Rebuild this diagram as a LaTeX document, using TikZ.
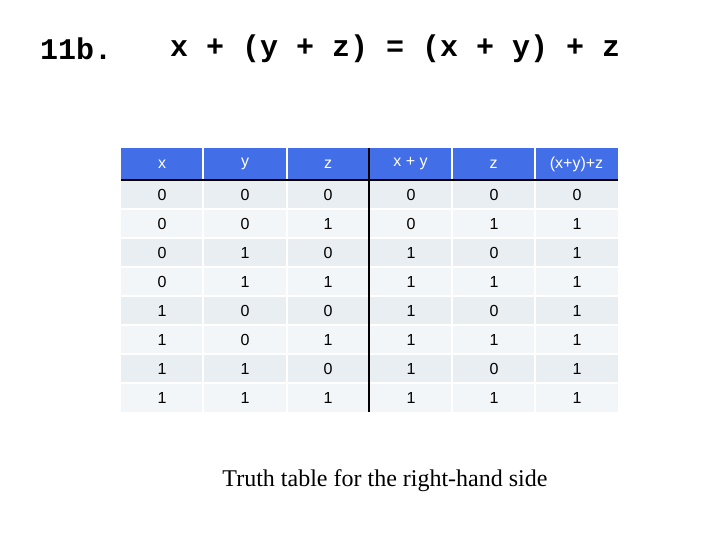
\documentclass[tikz,border=0pt]{standalone}
\usepackage{fontspec}
\setmainfont{Liberation Serif}
\setsansfont{Liberation Sans}
\setmonofont{Liberation Mono}
\definecolor{hdr}{RGB}{66,110,232}
\definecolor{rowa}{RGB}{232,238,242}
\definecolor{rowb}{RGB}{243,246,248}
\begin{document}
\begin{tikzpicture}[x=1pt,y=-1pt,
  cell/.style={font=\sffamily\fontsize{16}{18}\selectfont, anchor=center},
  hcell/.style={cell, text=white}]
\useasboundingbox[fill=white] (0,0) rectangle (720,540);
\node[anchor=west, inner sep=0, font=\ttfamily\bfseries\fontsize{30}{32}\selectfont] (t1) at (40,49) {11b.};
\node[anchor=west, inner sep=0, font=\ttfamily\bfseries\fontsize{30}{32}\selectfont] (t2) at (170,49) {x + (y + z) = (x + y) + z};
\fill[hdr] (121,148) rectangle (618,180);
\foreach \r in {0,...,7}{
  \pgfmathsetmacro\ya{180+29*\r}
  \ifodd\r \def\rc{rowb}\else\def\rc{rowa}\fi
  \fill[\rc] (121,\ya) rectangle (618,\ya+29);
  \draw[white,line width=1.5] (121,\ya) -- (618,\ya);
}
\foreach \xx in {203,287,452,535}{
  \draw[white,line width=1.5] (\xx,148) -- (\xx,412);
}
\draw[black,line width=2] (369,148) -- (369,412);
\draw[black,line width=2] (121,180) -- (618,180);
\foreach \t/\cx [count=\i from 0] in {x/162,y/245,z/328,x + y/410.5,z/493.5,(x+y)+z/576.5}{
  \node[hcell] (h\i) at (\cx,164) {\t};
}
\foreach \row [count=\r from 0] in {{0,0,0,0,0,0},{0,0,1,0,1,1},{0,1,0,1,0,1},{0,1,1,1,1,1},{1,0,0,1,0,1},{1,0,1,1,1,1},{1,1,0,1,0,1},{1,1,1,1,1,1}}{
  \foreach \v [count=\i from 0] in \row {
    \pgfmathsetmacro\cy{194.5+29*\r}
    \pgfmathsetmacro\cx{162+83*\i}
    \node[cell] (c\r\i) at (\cx,\cy) {\v};
  }
}
\node[font=\fontsize{24}{27}\selectfont] (cap) at (385,481) {Truth table for the right-hand side};
\end{tikzpicture}
\end{document}
